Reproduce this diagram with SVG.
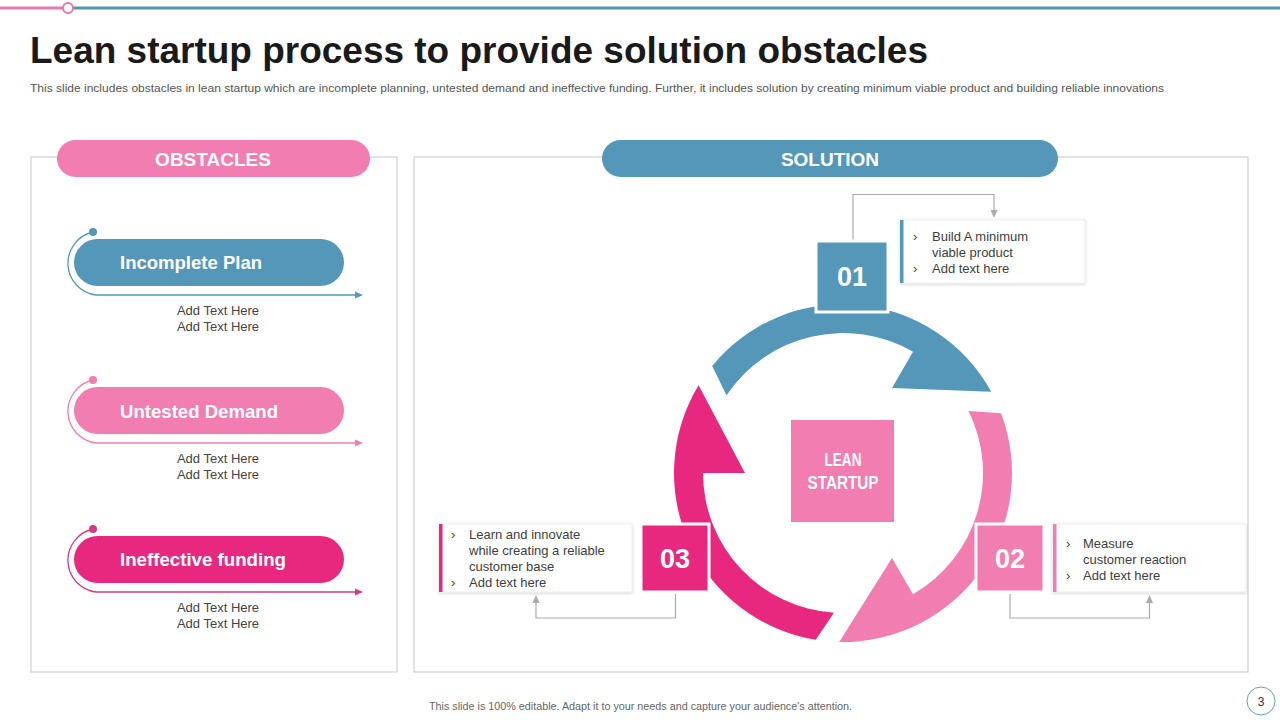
<svg xmlns="http://www.w3.org/2000/svg" width="1280" height="720" viewBox="0 0 1280 720">
<defs>
<style>
.t{font-family:"Liberation Sans",Arial,sans-serif}
.title{font-family:"Liberation Sans",Arial,sans-serif;font-weight:bold;font-size:37px;fill:#1a1a1a}
.sub{font-size:11px;fill:#555}
.hdr{font-size:19px;font-weight:bold;fill:#fff;text-anchor:middle}
.pill{font-size:19px;font-weight:bold;fill:#fff}
.add{font-size:13px;fill:#444;text-anchor:middle}
.bt{font-size:13px;fill:#404040}
.num{font-size:27px;font-weight:bold;fill:#fff;text-anchor:middle}
.lean{font-size:18px;font-weight:bold;fill:#fff;text-anchor:middle}
.panel{fill:#fff;stroke:#c8c8c8;stroke-width:1}
.conn{fill:none;stroke:#aaa;stroke-width:1.2}
.box{fill:#fff;stroke:#eee;stroke-width:1}
.blue{fill:#5597b8}
.pink{fill:#f27db0}
.mag{fill:#e8287e}
</style>
<filter id="sh" x="-10%" y="-20%" width="120%" height="140%">
<feDropShadow dx="0" dy="1" stdDeviation="1.5" flood-color="#000" flood-opacity="0.18"/>
</filter>
<path id="arr" d="M712.2,366 A169,169 0 0 1 991.2,391.8 L892,388.1 L913,351.8 A140,140 0 0 0 726.5,395.3 Z"/>
</defs>
<rect width="1280" height="720" fill="#fff"/>
<g id="topbar">
<line x1="0" y1="8" x2="63" y2="8" stroke="#e57aab" stroke-width="3"/>
<line x1="73" y1="8" x2="1280" y2="8" stroke="#5597a8" stroke-width="3"/>
<circle cx="68" cy="8" r="5" fill="#fff" stroke="#e57aab" stroke-width="2"/>
</g>
<text class="title" x="30" y="63" textLength="898" lengthAdjust="spacingAndGlyphs">Lean startup process to provide solution obstacles</text>
<text class="t sub" x="30" y="92" textLength="1134" lengthAdjust="spacingAndGlyphs">This slide includes obstacles in lean startup which are incomplete planning, untested demand and ineffective funding. Further, it includes solution by creating minimum viable product and building reliable innovations</text>

<g id="obstacles-panel">
<rect class="panel" x="31" y="157" width="366" height="515"/>
<rect class="pink" x="57" y="140" width="313" height="37" rx="18.5"/>
<text class="t hdr" x="213" y="166">OBSTACLES</text>
</g>
<g id="solution-panel">
<rect class="panel" x="414" y="157" width="834" height="515"/>
<rect class="blue" x="602" y="140" width="456" height="37" rx="18.5"/>
<text class="t hdr" x="830" y="166">SOLUTION</text>
</g>

<g id="obstacle-1">
<path d="M93,232 A32,32 0 0 0 96,295 L358,295" fill="none" stroke="#5597b8" stroke-width="1.3"/>
<polygon points="363,295 355,291.5 355,298.5" fill="#5597b8"/>
<circle cx="93" cy="232" r="4" fill="#5597b8"/>
<rect class="blue" x="74" y="239" width="270" height="47" rx="23.5"/>
<text class="t pill" x="120" y="269" textLength="142" lengthAdjust="spacingAndGlyphs">Incomplete Plan</text>
<text class="t add" x="218" y="314.5">Add Text Here</text>
<text class="t add" x="218" y="330.5">Add Text Here</text>
</g>
<g id="obstacle-2">
<path d="M93,380 A32,32 0 0 0 96,443 L358,443" fill="none" stroke="#f27db0" stroke-width="1.3"/>
<polygon points="363,443 355,439.5 355,446.5" fill="#f27db0"/>
<circle cx="93" cy="380" r="4" fill="#f27db0"/>
<rect class="pink" x="74" y="387" width="270" height="47" rx="23.5"/>
<text class="t pill" x="120" y="418" textLength="158" lengthAdjust="spacingAndGlyphs">Untested Demand</text>
<text class="t add" x="218" y="462.5">Add Text Here</text>
<text class="t add" x="218" y="478.5">Add Text Here</text>
</g>
<g id="obstacle-3">
<path d="M93,529 A32,32 0 0 0 96,592 L358,592" fill="none" stroke="#d63a84" stroke-width="1.3"/>
<polygon points="363,592 355,588.5 355,595.5" fill="#d63a84"/>
<circle cx="93" cy="529" r="4" fill="#d63a84"/>
<rect class="mag" x="74" y="536" width="270" height="47" rx="23.5"/>
<text class="t pill" x="120" y="566" textLength="166" lengthAdjust="spacingAndGlyphs">Ineffective funding</text>
<text class="t add" x="218" y="611.5">Add Text Here</text>
<text class="t add" x="218" y="627.5">Add Text Here</text>
</g>

<g id="cycle">
<use href="#arr" class="blue"/>
<use href="#arr" class="pink" transform="rotate(120 843 473)"/>
<use href="#arr" class="mag" transform="rotate(240 843 473)"/>
</g>
<g id="center">
<rect class="pink" x="791" y="420" width="103" height="102"/>
<text class="t lean" x="843" y="466" textLength="37" lengthAdjust="spacingAndGlyphs">LEAN</text>
<text class="t lean" x="843" y="489" textLength="71" lengthAdjust="spacingAndGlyphs">STARTUP</text>
</g>

<g id="connectors">
<polyline class="conn" points="853,241 853,194.5 994,194.5 994,212"/>
<polygon points="994,218 990.5,210 997.5,210" fill="#aaa"/>
<polyline class="conn" points="675.5,594 675.5,618 536,618 536,601"/>
<polygon points="536,595 532.5,603 539.5,603" fill="#aaa"/>
<polyline class="conn" points="1010,594 1010,618 1149.5,618 1149.5,601"/>
<polygon points="1149.5,595 1146,603 1153,603" fill="#aaa"/>
</g>

<g id="step-01">
<rect class="blue" x="816" y="241" width="72" height="71" stroke="#fff" stroke-width="3"/>
<text class="t num" x="852" y="286">01</text>
</g>
<g id="step-02">
<rect class="pink" x="976" y="524" width="68" height="68" stroke="#fff" stroke-width="3"/>
<text class="t num" x="1010" y="568">02</text>
</g>
<g id="step-03">
<rect class="mag" x="641" y="524" width="68" height="68" stroke="#fff" stroke-width="3"/>
<text class="t num" x="675" y="568">03</text>
</g>

<g id="box-01">
<rect class="box" x="900" y="220" width="185" height="63" filter="url(#sh)"/>
<rect class="blue" x="900" y="220" width="3.5" height="63"/>
<text class="t bt" x="913" y="240.5">›</text>
<text class="t bt" x="932" y="240.5">Build A minimum</text>
<text class="t bt" x="932" y="256.5">viable product</text>
<text class="t bt" x="913" y="272.5">›</text>
<text class="t bt" x="932" y="272.5">Add text here</text>
</g>
<g id="box-03">
<rect class="box" x="439" y="524" width="193" height="68" filter="url(#sh)"/>
<rect class="mag" x="439" y="524" width="3.5" height="68"/>
<text class="t bt" x="451" y="538.5">›</text>
<text class="t bt" x="469" y="538.5">Learn and innovate</text>
<text class="t bt" x="469" y="554.5">while creating a reliable</text>
<text class="t bt" x="469" y="570.5">customer base</text>
<text class="t bt" x="451" y="586.5">›</text>
<text class="t bt" x="469" y="586.5">Add text here</text>
</g>
<g id="box-02">
<rect class="box" x="1053" y="524" width="193" height="68" filter="url(#sh)"/>
<rect class="pink" x="1053" y="524" width="3.5" height="68"/>
<text class="t bt" x="1066" y="547.5">›</text>
<text class="t bt" x="1083" y="547.5">Measure</text>
<text class="t bt" x="1083" y="563.5">customer reaction</text>
<text class="t bt" x="1066" y="579.5">›</text>
<text class="t bt" x="1083" y="579.5">Add text here</text>
</g>

<g id="footer">
<text class="t" x="429" y="710" font-size="10" fill="#666" textLength="423" lengthAdjust="spacingAndGlyphs">This slide is 100% editable. Adapt it to your needs and capture your audience's attention.</text>
<circle cx="1261" cy="701" r="14" fill="#fff" stroke="#6a9fb5" stroke-width="1"/>
<text class="t" x="1261" y="705.5" font-size="12" fill="#333" text-anchor="middle">3</text>
</g>
</svg>
